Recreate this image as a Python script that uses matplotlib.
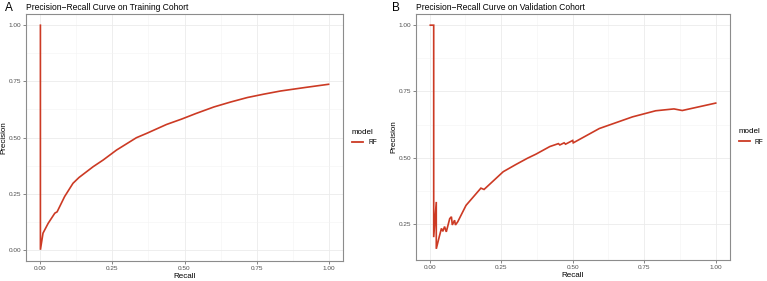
import numpy as np
import matplotlib.pyplot as plt
from matplotlib.lines import Line2D

plt.rcParams['font.family'] = ['Liberation Sans', 'DejaVu Sans']

# --- Data ---
train_recall = [0.0, 0.0, 0.009, 0.027, 0.05, 0.058, 0.084, 0.113, 0.134, 0.183, 0.218,
                0.264, 0.333, 0.368, 0.4375, 0.49, 0.54, 0.602, 0.66, 0.718, 0.775, 0.833,
                0.92, 1.0]
train_precision = [1.0, 0.0, 0.074, 0.118, 0.163, 0.169, 0.237, 0.296, 0.322, 0.37, 0.40,
                   0.444, 0.499, 0.518, 0.558, 0.582, 0.607, 0.636, 0.658, 0.678, 0.693, 0.707,
                   0.723, 0.737]

val_recall = [0.002, 0.014, 0.014, 0.023, 0.023, 0.033, 0.041, 0.046, 0.052, 0.058, 0.07,
              0.076, 0.079, 0.087, 0.09, 0.098, 0.127, 0.179, 0.19, 0.203, 0.257, 0.301,
              0.342, 0.371, 0.42, 0.45, 0.455, 0.47, 0.475, 0.5, 0.502, 0.593, 0.709,
              0.79, 0.854, 0.883, 1.0]
val_precision = [1.0, 1.0, 0.2, 0.333, 0.156, 0.2, 0.233, 0.222, 0.24, 0.22, 0.27,
                 0.277, 0.246, 0.264, 0.246, 0.258, 0.32, 0.385, 0.38, 0.393, 0.447, 0.474,
                 0.498, 0.513, 0.542, 0.553, 0.548, 0.556, 0.551, 0.565, 0.556, 0.61, 0.654,
                 0.677, 0.684, 0.678, 0.706]

ticks = [0.0, 0.25, 0.5, 0.75, 1.0]
tick_labels = ["0.00", "0.25", "0.50", "0.75", "1.00"]

LINE_COLOR = "#cc3a24"
W, H = 767, 281

fig = plt.figure(figsize=(W / 100, H / 100), dpi=100)


def px_axes(x0, x1, y0, y1):
    # pixel box (top-left origin) -> figure axes
    return fig.add_axes([x0 / W, 1 - y1 / H, (x1 - x0) / W, (y1 - y0) / H])


def style(ax, x, y, title, letter, letter_x, ylab_x):
    ax.plot(x, y, color=LINE_COLOR, lw=1.2, solid_joinstyle="miter")
    xr = max(x) - min(x)
    yr = max(y) - min(y)
    ax.set_xlim(min(x) - 0.05 * xr, max(x) + 0.05 * xr)
    ax.set_ylim(min(y) - 0.05 * yr, max(y) + 0.05 * yr)
    ax.set_xticks(ticks)
    ax.set_xticklabels(tick_labels)
    yt = [t for t in ticks if t >= min(y) - 0.01]
    ax.set_yticks(yt)
    ax.set_yticklabels([tick_labels[ticks.index(t)] for t in yt])
    ax.set_xticks([0.125, 0.375, 0.625, 0.875], minor=True)
    ax.set_yticks([t + 0.125 for t in ticks[:-1] if t + 0.125 > min(y)], minor=True)
    ax.grid(which="major", color="#ebebeb", lw=0.6)
    ax.grid(which="minor", color="#f3f3f3", lw=0.4)
    ax.set_axisbelow(True)
    ax.tick_params(which="major", length=2, width=0.5, color="#555555",
                   labelsize=4.6, labelcolor="#4d4d4d", pad=1.5)
    ax.tick_params(which="minor", length=0)
    for s in ax.spines.values():
        s.set_color("#8c8c8c")
        s.set_linewidth(0.8)
    ax.set_xlabel("Recall", fontsize=5.8, labelpad=1.5)
    ax.set_ylabel("Precision", fontsize=5.8)
    ax.yaxis.set_label_coords(ylab_x, 0.5)
    ax.set_title(title, fontsize=6.15, loc="left", pad=3, x=-0.0)
    fig.text(letter_x / W, 1 - 8 / H, letter, fontsize=8.5, va="center", ha="left")
    h = [Line2D([], [], color=LINE_COLOR, lw=1.3)]
    leg = ax.legend(h, ["RF"], title="model", loc="center left", bbox_to_anchor=(1.02, 0.5),
                    frameon=False, fontsize=4.8, title_fontsize=5.8, handlelength=1.6,
                    handletextpad=0.8, borderaxespad=0)
    leg._legend_box.align = "left"


axA = px_axes(26, 343, 14, 261)
style(axA, train_recall, train_precision, "Precision\u2212Recall Curve on Training Cohort", "A", 5, -0.058)

axB = px_axes(416, 730, 14, 260)
style(axB, val_recall, val_precision, "Precision\u2212Recall Curve on Validation Cohort", "B", 392, -0.058)

fig.savefig("out.png", dpi=100)
